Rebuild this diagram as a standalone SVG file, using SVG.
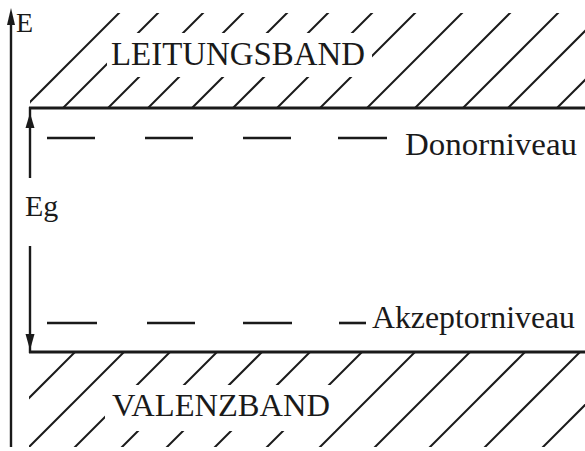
<svg xmlns="http://www.w3.org/2000/svg" width="585" height="451" viewBox="0 0 585 451">
  <style>
    .hatch { stroke: #1a1a1a; stroke-width: 2; fill: none; }
    .band { stroke: #1a1a1a; stroke-width: 3; fill: none; }
    .dash { stroke: #1a1a1a; stroke-width: 2.6; fill: none; }
    .arr { stroke: #1a1a1a; stroke-width: 2.4; fill: none; }
    .head { fill: #1a1a1a; stroke: none; }
    .lbl { font-family: "Liberation Serif", "DejaVu Serif", serif; fill: #1a1a1a; }
  </style>
  <defs>
    <clipPath id="clipTop">
      <path clip-rule="evenodd" d="M30 13 H585 V108 H30 Z M107 33 H372 V77 H107 Z"/>
    </clipPath>
    <clipPath id="clipBot">
      <path clip-rule="evenodd" d="M29 352 H585 V447 H29 Z M105 385 H335 V431 H105 Z"/>
    </clipPath>
  </defs>
  <rect width="585" height="451" fill="#ffffff"/>

  <g id="leitungsband">
    <g class="hatch" clip-path="url(#clipTop)">
      <line x1="24" y1="108" x2="124" y2="8"/>
      <line x1="63" y1="108" x2="163" y2="8"/>
      <line x1="108" y1="108" x2="208" y2="8"/>
      <line x1="148" y1="108" x2="248" y2="8"/>
      <line x1="192" y1="108" x2="292" y2="8"/>
      <line x1="233" y1="108" x2="333" y2="8"/>
      <line x1="277" y1="108" x2="377" y2="8"/>
      <line x1="320" y1="108" x2="420" y2="8"/>
      <line x1="367" y1="108" x2="467" y2="8"/>
      <line x1="415" y1="108" x2="515" y2="8"/>
      <line x1="463" y1="108" x2="563" y2="8"/>
      <line x1="508" y1="108" x2="608" y2="8"/>
      <line x1="557" y1="108" x2="657" y2="8"/>
    </g>
    <line class="band" x1="29" y1="108" x2="585" y2="108"/>
    <text class="lbl" x="111" y="65" font-size="33" textLength="254" lengthAdjust="spacingAndGlyphs">LEITUNGSBAND</text>
  </g>

  <g id="valenzband">
    <g class="hatch" clip-path="url(#clipBot)">
      <line x1="75" y1="352" x2="-25" y2="452"/>
      <line x1="124" y1="352" x2="24" y2="452"/>
      <line x1="170" y1="352" x2="70" y2="452"/>
      <line x1="217" y1="352" x2="117" y2="452"/>
      <line x1="262" y1="352" x2="162" y2="452"/>
      <line x1="310" y1="352" x2="210" y2="452"/>
      <line x1="362" y1="352" x2="262" y2="452"/>
      <line x1="415" y1="352" x2="315" y2="452"/>
      <line x1="470" y1="352" x2="370" y2="452"/>
      <line x1="525" y1="352" x2="425" y2="452"/>
      <line x1="580" y1="352" x2="480" y2="452"/>
      <line x1="638" y1="352" x2="538" y2="452"/>
    </g>
    <line class="band" x1="29" y1="352" x2="585" y2="352"/>
    <text class="lbl" x="112" y="416" font-size="32" textLength="218" lengthAdjust="spacingAndGlyphs">VALENZBAND</text>
  </g>

  <g id="donorniveau">
    <g class="dash">
      <line x1="47" y1="138" x2="95" y2="138"/>
      <line x1="145" y1="138" x2="193" y2="138"/>
      <line x1="243" y1="138" x2="291" y2="138"/>
      <line x1="338" y1="138" x2="387" y2="138"/>
    </g>
    <text class="lbl" x="405" y="155" font-size="31" textLength="172" lengthAdjust="spacingAndGlyphs">Donorniveau</text>
  </g>

  <g id="akzeptorniveau">
    <g class="dash">
      <line x1="47" y1="323" x2="97" y2="323"/>
      <line x1="147" y1="323" x2="195" y2="323"/>
      <line x1="243" y1="323" x2="292" y2="323"/>
      <line x1="339" y1="323" x2="366" y2="323"/>
    </g>
    <text class="lbl" x="372" y="328" font-size="31" textLength="203" lengthAdjust="spacingAndGlyphs">Akzeptorniveau</text>
  </g>

  <g id="energy-axis">
    <line class="arr" x1="11" y1="447" x2="11" y2="20"/>
    <polygon class="head" points="11,8 7,25 15,25"/>
    <text class="lbl" x="16" y="32" font-size="28">E</text>
  </g>

  <g id="connectors">
    <line class="arr" x1="30" y1="107" x2="30" y2="178"/>
    <polygon class="head" points="30,113 25.5,128 34.5,128"/>
    <line class="arr" x1="30" y1="246" x2="30" y2="353"/>
    <polygon class="head" points="30,350 25.5,334 34.5,334"/>
  </g>

  <g id="eg-label">
    <text class="lbl" x="25" y="216" font-size="30">Eg</text>
  </g>
</svg>
